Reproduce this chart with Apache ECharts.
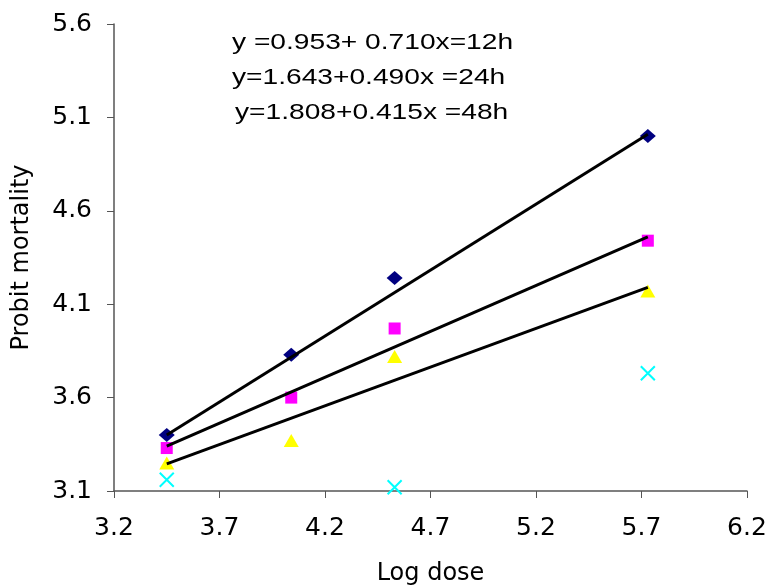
<!DOCTYPE html>
<html>
<head>
<meta charset="utf-8">
<script src="https://cdn.jsdelivr.net/npm/echarts@6/dist/echarts.min.js"></script>
<style>html,body{margin:0;padding:0;background:#fff}#c{width:770px;height:587px}</style>
</head>
<body>
<div id="c"></div>
<script>
const logDose = [3.45, 4.04, 4.53, 5.73];
const probit12h = [3.40, 3.83, 4.24, 5.00];
const probit24h = [3.33, 3.60, 3.97, 4.44];
const probit48h = [3.25, 3.37, 3.82, 4.17];
const crossX = [3.45, 4.53, 5.73];
const crossY = [3.16, 3.12, 3.73];
const trendX = [3.45, 5.73];
const trend12h = [3.40, 5.01];
const trend24h = [3.34, 4.46];
const trend48h = [3.245, 4.19];
const xTicks = [3.2, 3.7, 4.2, 4.7, 5.2, 5.7, 6.2];
const yTicks = [3.1, 3.6, 4.1, 4.6, 5.1, 5.6];
const equations = ['y =0.953+ 0.710x=12h', 'y=1.643+0.490x =24h', 'y=1.808+0.415x =48h'];

const pairs = (xs, ys) => xs.map((x, i) => [x, ys[i]]);
const axisFont = '"DejaVu Sans", sans-serif';
const eqFont = '"Liberation Sans", Arial, sans-serif';

const chart = echarts.init(document.getElementById('c'));
const lineSeries = (ys) => ({
  type: 'line', data: pairs(trendX, ys), symbol: 'none', z: 3,
  lineStyle: {color: '#000', width: 3}, silent: true, animation: false
});
const eqText = (txt, x, y) => ({
  type: 'text', x: x, y: y, scaleX: 1.28, scaleY: 1,
  style: {text: txt, x: 0, y: 0, font: '22px ' + eqFont, fill: '#000', textAlign: 'left', textVerticalAlign: 'middle'}
});
chart.setOption({
  animation: false,
  grid: {left: 114, right: 23, top: 24, bottom: 96, outerBoundsMode: 'none', containLabel: false},
  xAxis: {
    type: 'value', min: xTicks[0], max: xTicks[xTicks.length - 1], interval: 0.5,
    name: 'Log dose', nameLocation: 'middle', nameGap: 71,
    nameTextStyle: {fontFamily: axisFont, fontSize: 24, color: '#000'},
    axisLine: {lineStyle: {color: '#555', width: 1.5}},
    axisTick: {show: true, length: 7, lineStyle: {color: '#555'}},
    axisLabel: {fontFamily: axisFont, fontSize: 25, color: '#000', margin: 25, formatter: v => v.toFixed(1)},
    splitLine: {show: false}
  },
  yAxis: {
    type: 'value', min: yTicks[0], max: yTicks[yTicks.length - 1], interval: 0.5,
    name: 'Probit mortality', nameLocation: 'middle', nameGap: 80, nameRotate: 90,
    nameTextStyle: {fontFamily: axisFont, fontSize: 24, color: '#000'},
    axisLine: {show: true, lineStyle: {color: '#555', width: 1.5}},
    axisTick: {show: true, length: 7, lineStyle: {color: '#555'}},
    axisLabel: {fontFamily: axisFont, fontSize: 25, color: '#000', margin: 22, formatter: v => v.toFixed(1)},
    splitLine: {show: false}
  },
  series: [
    {type: 'scatter', data: pairs(logDose, probit12h), symbol: 'diamond', symbolSize: [16, 14], itemStyle: {color: '#000080', opacity: 1}, z: 2},
    {type: 'scatter', data: pairs(logDose, probit24h), symbol: 'rect', symbolSize: 12, itemStyle: {color: '#FF00FF', opacity: 1}, z: 2},
    {type: 'scatter', data: pairs(logDose, probit48h), symbol: 'triangle', symbolSize: [15, 13], itemStyle: {color: '#FFFF00', opacity: 1}, z: 2},
    {type: 'scatter', data: pairs(crossX, crossY), symbol: 'path://M0,0L10,10M10,0L0,10', symbolSize: 14,
      itemStyle: {color: 'none', borderColor: '#00FFFF', borderWidth: 2, opacity: 1}, z: 2},
    lineSeries(trend12h),
    lineSeries(trend24h),
    lineSeries(trend48h)
  ],
  graphic: [
    eqText(equations[0], 232, 43),
    eqText(equations[1], 232, 78),
    eqText(equations[2], 235, 113)
  ]
});
</script>
</body>
</html>
